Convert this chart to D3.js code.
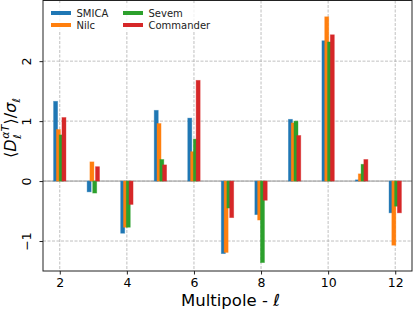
<!DOCTYPE html>
<html>
<head>
<meta charset="utf-8">
<script src="https://cdn.jsdelivr.net/npm/d3@7"></script>
<style>
  body { margin: 0; background: #fff; }
  svg { font-family: "DejaVu Sans", sans-serif; display: block; }
</style>
</head>
<body>
<script>
/* Multipoles and the four component-separation series */
var multipoles = [2, 3, 4, 5, 6, 7, 8, 9, 10, 11, 12];
var seriesNames = ["SMICA", "Nilc", "Sevem", "Commander"];
var seriesColors = ["#1f77b4", "#ff7f0e", "#2ca02c", "#d62728"];
var smica     = [1.33, -0.18, -0.87, 1.18, 1.05, -1.21, -0.56, 1.03, 2.34, 0.02, -0.53];
var nilc      = [0.86, 0.32, -0.77, 0.96, 0.49, -1.19, -0.65, 0.97, 2.74, 0.12, -1.07];
var sevem     = [0.77, -0.20, -0.77, 0.36, 0.70, -0.45, -1.36, 1.00, 2.32, 0.28, -0.42];
var commander = [1.06, 0.24, -0.39, 0.27, 1.68, -0.61, -0.32, 0.76, 2.44, 0.36, -0.53];
var xTicks = [2, 4, 6, 8, 10, 12];
var yTicks = [-1, 0, 1, 2];

var series = [smica, nilc, sevem, commander];

var W = 413, H = 310;
var pL = 43, pR = 412, pT = 0.5, pB = 271;

var svg = d3.select("body").append("svg")
    .attr("width", W)
    .attr("height", H);

var x = d3.scaleLinear().domain([1.5, 12.5]).range([pL, pR]);
var y = d3.scaleLinear().domain([-1.5, 3.02]).range([pB, 0]);

/* grid */
var grid = svg.append("g");
grid.selectAll(".gx").data(xTicks).enter().append("line")
    .attr("x1", function(d) { return x(d); })
    .attr("x2", function(d) { return x(d); })
    .attr("y1", pT).attr("y2", pB)
    .attr("stroke", "#b0b0b0").attr("stroke-width", 0.8)
    .attr("stroke-dasharray", "3,1.5");
grid.selectAll(".gy").data(yTicks).enter().append("line")
    .attr("y1", function(d) { return y(d); })
    .attr("y2", function(d) { return y(d); })
    .attr("x1", pL).attr("x2", pR)
    .attr("stroke", "#b0b0b0").attr("stroke-width", 0.8)
    .attr("stroke-dasharray", "3,1.5");

/* zero line */
svg.append("line")
    .attr("x1", pL).attr("x2", pR)
    .attr("y1", y(0)).attr("y2", y(0))
    .attr("stroke", "#999").attr("stroke-width", 1);

/* bars */
var barW = 0.12, step = 0.083;
series.forEach(function(vals, k) {
  svg.append("g").selectAll("rect")
      .data(vals)
    .enter().append("rect")
      .attr("x", function(d, i) { return x(multipoles[i] + (k - 1.5) * step - barW / 2); })
      .attr("width", x(barW) - x(0))
      .attr("y", function(d) { return y(Math.max(d, 0)); })
      .attr("height", function(d) { return Math.abs(y(d) - y(0)); })
      .attr("fill", seriesColors[k])
      .attr("stroke", seriesColors[k])
      .attr("stroke-opacity", 0.45)
      .attr("stroke-width", 0.8);
});

/* frame */
svg.append("rect")
    .attr("x", pL).attr("y", pT)
    .attr("width", pR - pL).attr("height", pB - pT)
    .attr("fill", "none").attr("stroke", "#222").attr("stroke-width", 1);

/* axes ticks */
var xAxis = svg.append("g")
    .attr("transform", "translate(0," + pB + ")")
    .call(d3.axisBottom(x).tickValues(xTicks).tickSize(3.5).tickPadding(3.5));
xAxis.select(".domain").remove();
xAxis.selectAll("text").attr("font-size", 12.5).attr("fill", "#000")
    .attr("font-family", "DejaVu Sans");
xAxis.selectAll("line").attr("stroke", "#222");

var yAxis = svg.append("g")
    .attr("transform", "translate(" + pL + ",0)")
    .call(d3.axisLeft(y).tickValues(yTicks).tickSize(3.5)
      .tickFormat(function(d) { return d < 0 ? "\u2212" + Math.abs(d) : d; }));
yAxis.select(".domain").remove();
yAxis.selectAll("line").attr("stroke", "#222");
yAxis.selectAll("text")
    .attr("font-size", 12.5).attr("fill", "#000").attr("font-family", "DejaVu Sans")
    .attr("x", null).attr("dy", null)
    .attr("text-anchor", "middle")
    .attr("transform", "translate(-12,0) rotate(-90)")
    .attr("y", 0);

/* x label */
var xl = svg.append("text")
    .attr("x", (pL + pR) / 2 + 3).attr("y", 306)
    .attr("text-anchor", "middle")
    .attr("font-size", 16.5);
xl.append("tspan").text("Multipole - ");
xl.append("tspan").attr("font-style", "italic").text("\u2113");

/* y label, built piece by piece */
var yl = svg.append("g").attr("transform", "translate(16,128) rotate(-90)");
var fs = 16, sfs = 11;
var parts = [];
var cx = 0;
function piece(txt, size, dy, italic) {
  var t = yl.append("text").attr("x", cx).attr("y", dy)
      .attr("font-size", size)
      .attr("font-style", italic ? "italic" : "normal")
      .text(txt);
  parts.push(t);
  return t.node().getComputedTextLength();
}
cx += piece("\u27e8", fs, 0, false);
cx += piece("D", fs, 0, true) + 0.5;
var sx = cx;
var w1 = piece("\u03b1T", sfs, -7, true);
cx = sx;
var w2 = piece("\u2113", sfs, 5, true);
cx = sx + Math.max(w1, w2) + 0.5;
cx += piece("\u27e9/", fs, 0, false);
cx += piece("\u03c3", fs, 0, true);
cx += piece("\u2113", sfs, 3.5, true);
var total = cx;
parts.forEach(function(t) { t.attr("x", +t.attr("x") - total / 2); });

/* legend */
var lg = svg.append("g");
lg.append("rect")
    .attr("x", 46).attr("y", 3).attr("width", 162).attr("height", 29)
    .attr("fill", "#fff").attr("fill-opacity", 0.8);
seriesNames.forEach(function(name, k) {
  var col = Math.floor(k / 2), row = k % 2;
  var lx = 51 + col * 72, ly = 13 + row * 12;
  lg.append("rect")
      .attr("x", lx).attr("y", ly - 2).attr("width", 20).attr("height", 4)
      .attr("fill", seriesColors[k]);
  lg.append("text")
      .attr("x", lx + 25.5).attr("y", ly + 3.6)
      .attr("font-size", 10).attr("fill", "#222")
      .text(name);
});
</script>
</body>
</html>
